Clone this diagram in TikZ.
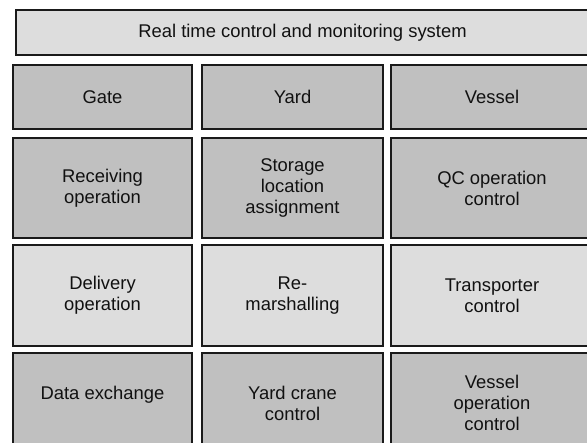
\documentclass[tikz,border=0pt]{standalone}
\usepackage{fontspec}
\setmainfont{Liberation Sans}
\definecolor{darkfill}{HTML}{C0C0C0}
\definecolor{lightfill}{HTML}{DDDDDD}
\definecolor{edge}{HTML}{1A1A1A}
\definecolor{txt}{HTML}{111111}
\begin{document}
\begin{tikzpicture}[x=1pt,y=1pt,
  cell/.style={draw=edge, line width=1.3pt, rectangle, inner sep=0pt, align=center,
    text=txt, font=\fontsize{18.4}{21}\selectfont},
  darkcell/.style={cell, fill=darkfill},
  lightcell/.style={cell, fill=lightfill},
  colA/.style={minimum width=179pt},
  colB/.style={minimum width=181pt},
  colC/.style={minimum width=202pt}]
\useasboundingbox (0,0) rectangle (587,443);
\clip (0,0) rectangle (587,443);
% top bar
\node[lightcell, minimum width=573pt, minimum height=45pt] (top) at (302.5,410.5) {Real time control and monitoring system};
% row 1
\node[darkcell, colA, minimum height=64pt] (gate) at (102.5,346) {Gate};
\node[darkcell, colB, minimum height=64pt] (yard) at (292.5,346) {Yard};
\node[darkcell, colC, minimum height=64pt] (vessel) at (492,346) {Vessel};
% row 2
\node[darkcell, colA, minimum height=100pt] (recv) at (102.5,255) {Receiving\\operation};
\node[darkcell, colB, minimum height=100pt] (store) at (292.5,255) {Storage\\location\\assignment};
\node[darkcell, colC, minimum height=100pt] (qc) at (492,255) {QC operation\\control};
% row 3
\node[lightcell, colA, minimum height=101pt] (deliv) at (102.5,147.5) {Delivery\\operation};
\node[lightcell, colB, minimum height=101pt] (remar) at (292.5,147.5) {Re-\\marshalling};
\node[lightcell, colC, minimum height=101pt] (trans) at (492,147.5) {Transporter\\control};
% row 4
\node[darkcell, colA, minimum height=100pt] (data) at (102.5,40) {Data exchange\\\mbox{}};
\node[darkcell, colB, minimum height=100pt] (ycrane) at (292.5,40) {Yard crane\\control};
\node[darkcell, colC, minimum height=100pt] (vop) at (492,40) {Vessel\\operation\\control};
\end{tikzpicture}
\end{document}
